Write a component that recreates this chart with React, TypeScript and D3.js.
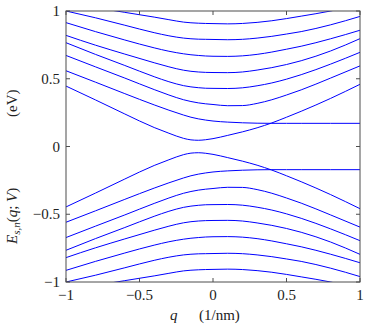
import React from "react";
import * as d3 from "d3";

// wave number grid (1/nm)
const qValues = [-1, -0.8, -0.6, -0.4, -0.3, -0.2, -0.15, -0.1, -0.05, 0, 0.1, 0.2, 0.3, 0.4, 0.5, 0.6, 0.8, 1];

// conduction-like branches (eV)
const bandA = [1.06, 1.025, 0.99, 0.955, 0.936, 0.918, 0.913, 0.91, 0.908, 0.907, 0.905, 0.908, 0.916, 0.928, 0.944, 0.962, 1.0, 1.05];
const bandB = [1.0, 0.95, 0.895, 0.84, 0.817, 0.8, 0.795, 0.792, 0.791, 0.79, 0.788, 0.791, 0.8, 0.813, 0.83, 0.848, 0.898, 0.96];
const bandC = [0.914, 0.848, 0.786, 0.728, 0.703, 0.684, 0.677, 0.672, 0.668, 0.666, 0.665, 0.669, 0.68, 0.697, 0.718, 0.74, 0.795, 0.858];
const bandD = [0.82, 0.748, 0.682, 0.618, 0.588, 0.563, 0.555, 0.55, 0.547, 0.546, 0.545, 0.55, 0.564, 0.582, 0.605, 0.633, 0.705, 0.796];
const bandE = [0.766, 0.68, 0.598, 0.515, 0.478, 0.449, 0.44, 0.434, 0.43, 0.429, 0.428, 0.433, 0.448, 0.469, 0.497, 0.53, 0.608, 0.695];
const bandF = [0.672, 0.588, 0.505, 0.42, 0.38, 0.345, 0.332, 0.322, 0.315, 0.31, 0.301, 0.302, 0.318, 0.345, 0.38, 0.418, 0.505, 0.595];
const bandG = [0.559, 0.475, 0.39, 0.307, 0.268, 0.232, 0.216, 0.204, 0.195, 0.188, 0.18, 0.175, 0.172, 0.171, 0.171, 0.171, 0.171, 0.171];
const bandH = [0.446, 0.344, 0.24, 0.14, 0.098, 0.06, 0.049, 0.046, 0.05, 0.058, 0.082, 0.108, 0.138, 0.174, 0.216, 0.26, 0.355, 0.459];

// valence-like branches (eV)
const valA = [-1.06, -1.025, -0.99, -0.955, -0.936, -0.918, -0.913, -0.91, -0.908, -0.907, -0.905, -0.908, -0.916, -0.928, -0.944, -0.962, -1.0, -1.05];
const valB = [-1.0, -0.95, -0.895, -0.84, -0.817, -0.8, -0.795, -0.792, -0.791, -0.79, -0.788, -0.791, -0.8, -0.813, -0.83, -0.848, -0.898, -0.96];
const valC = [-0.914, -0.848, -0.786, -0.728, -0.703, -0.684, -0.677, -0.672, -0.668, -0.666, -0.665, -0.669, -0.68, -0.697, -0.718, -0.74, -0.795, -0.858];
const valD = [-0.82, -0.748, -0.682, -0.618, -0.588, -0.563, -0.555, -0.55, -0.547, -0.546, -0.545, -0.55, -0.564, -0.582, -0.605, -0.633, -0.705, -0.796];
const valE = [-0.766, -0.68, -0.598, -0.515, -0.478, -0.449, -0.44, -0.434, -0.43, -0.429, -0.428, -0.433, -0.448, -0.469, -0.497, -0.53, -0.608, -0.695];
const valF = [-0.672, -0.588, -0.505, -0.42, -0.38, -0.345, -0.332, -0.322, -0.315, -0.31, -0.301, -0.302, -0.318, -0.345, -0.38, -0.418, -0.505, -0.595];
const valG = [-0.559, -0.475, -0.39, -0.307, -0.268, -0.232, -0.216, -0.204, -0.195, -0.188, -0.18, -0.175, -0.172, -0.171, -0.171, -0.171, -0.171, -0.171];
const valH = [-0.446, -0.344, -0.24, -0.14, -0.098, -0.06, -0.049, -0.046, -0.05, -0.058, -0.082, -0.108, -0.138, -0.174, -0.216, -0.26, -0.355, -0.459];

const allBands = [bandA, bandB, bandC, bandD, bandE, bandF, bandG, bandH, valA, valB, valC, valD, valE, valF, valG, valH];

const xTicks = [-1, -0.5, 0, 0.5, 1];
const yTicks = [-1, -0.5, 0, 0.5, 1];
const xTickLabels = ["−1", "−0.5", "0", "0.5", "1"];
const yTickLabels = ["−1", "−0.5", "0", "0.5", "1"];

const FONT = '"Liberation Serif", "Times New Roman", Times, "DejaVu Serif", serif';
const AXIS = "#4d4d4d";

export default function App() {
  const W = 368;
  const H = 329;
  const left = 66, right = 360, top = 11, bottom = 282;
  const x = d3.scaleLinear().domain([-1, 1]).range([left, right]);
  const y = d3.scaleLinear().domain([-1, 1]).range([bottom, top]);
  const line = d3
    .line<number>()
    .x((_, i) => x(qValues[i]))
    .y((d) => y(d))
    .curve(d3.curveMonotoneX);
  const tl = 4;
  const ts: React.CSSProperties = { fontFamily: FONT, fontSize: 15 };

  return (
    <svg width={W} height={H} style={{ position: "absolute", left: 0, top: 0, background: "#fff" }}>
      <defs>
        <clipPath id="plotclip">
          <rect x={left} y={top} width={right - left} height={bottom - top} />
        </clipPath>
      </defs>
      <rect x={0} y={0} width={W} height={H} fill="#fff" />
      <g clipPath="url(#plotclip)">
        {allBands.map((b, i) => (
          <path key={i} d={line(b) || ""} fill="none" stroke="#0000ff" strokeWidth={1} />
        ))}
      </g>
      <rect x={left} y={top} width={right - left} height={bottom - top} fill="none" stroke={AXIS} strokeWidth={1} />
      {xTicks.map((t, i) => (
        <g key={"xt" + i}>
          <line x1={x(t)} x2={x(t)} y1={bottom} y2={bottom - tl} stroke={AXIS} />
          <line x1={x(t)} x2={x(t)} y1={top} y2={top + tl} stroke={AXIS} />
          <text x={x(t)} y={300} style={ts} textAnchor="middle" fill="#222">
            {xTickLabels[i]}
          </text>
        </g>
      ))}
      {yTicks.map((t, i) => (
        <g key={"yt" + i}>
          <line x1={left} x2={left + tl} y1={y(t)} y2={y(t)} stroke={AXIS} />
          <line x1={right} x2={right - tl} y1={y(t)} y2={y(t)} stroke={AXIS} />
          <text x={60} y={y(t) + 5} style={ts} textAnchor="end" fill="#222">
            {yTickLabels[i]}
          </text>
        </g>
      ))}
      <text x={170} y={320} style={ts} fill="#222">
        <tspan fontStyle="italic">q</tspan>
      </text>
      <text x={199} y={320} style={ts} fill="#222">
        (1/nm)
      </text>
      <text transform="translate(17,244) rotate(-90)" style={ts} fill="#222">
        <tspan fontStyle="italic">E</tspan>
        <tspan fontStyle="italic" fontSize={11} dy={3}>s,n</tspan>
        <tspan dy={-3}>(</tspan>
        <tspan fontStyle="italic">q</tspan>
        <tspan>; </tspan>
        <tspan fontStyle="italic">V</tspan>
        <tspan>)</tspan>
      </text>
      <text transform="translate(17,117) rotate(-90)" style={ts} fill="#222">
        (eV)
      </text>
    </svg>
  );
}
